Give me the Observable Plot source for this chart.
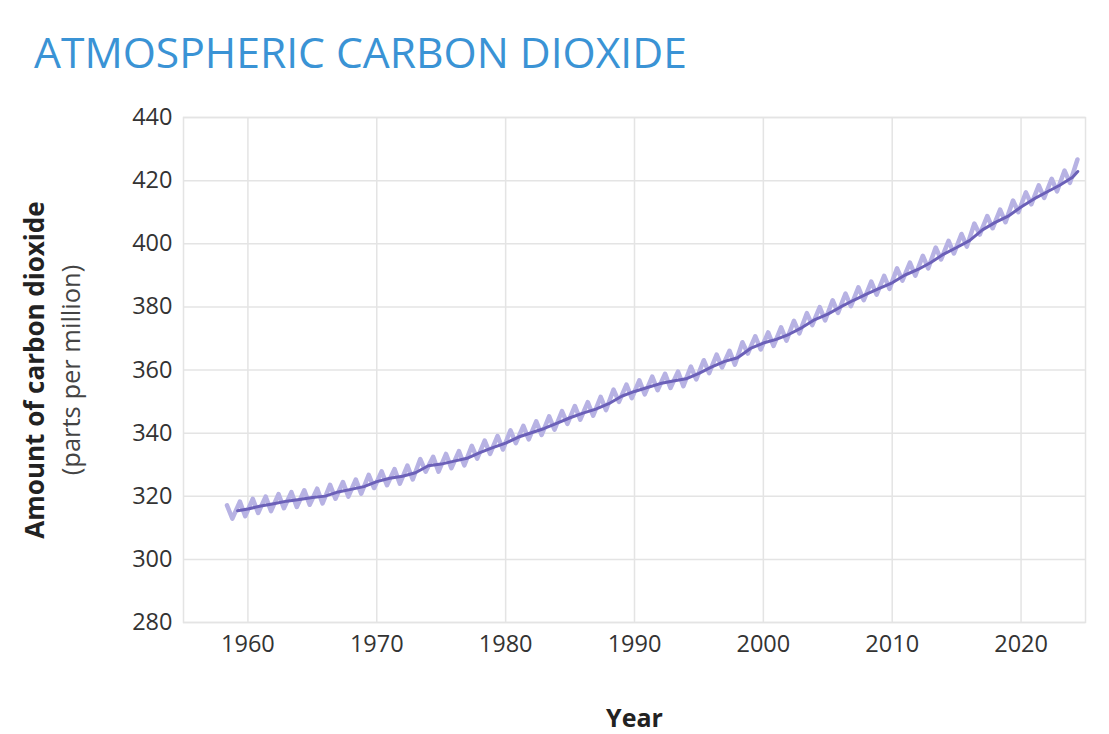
<!DOCTYPE html>
<html>
<head>
<meta charset="utf-8">
<script src="https://cdn.jsdelivr.net/npm/d3@7"></script>
<script src="https://cdn.jsdelivr.net/npm/@observablehq/plot@0.6"></script>
<style>
  html, body { margin: 0; padding: 0; background: #fff; }
  body { width: 1109px; height: 734px; position: relative; overflow: hidden; font-family: "Open Sans", sans-serif; }
  #title { position: absolute; left: 34px; top: 22px; font-size: 42.6px; color: #3a93d5; font-family: "Open Sans", sans-serif; white-space: nowrap; }
  #chart { position: absolute; left: 0; top: 100px; }
</style>
</head>
<body>
<div id="title">ATMOSPHERIC CARBON DIOXIDE</div>
<div id="chart"></div>
<script>
// Seasonal cycle: May peak and October trough (ppm) for each year
const cycleYears = [1958,1959,1960,1961,1962,1963,1964,1965,1966,1967,1968,1969,1970,1971,1972,1973,1974,1975,1976,1977,1978,1979,1980,1981,1982,1983,1984,1985,1986,1987,1988,1989,1990,1991,1992,1993,1994,1995,1996,1997,1998,1999,2000,2001,2002,2003,2004,2005,2006,2007,2008,2009,2010,2011,2012,2013,2014,2015,2016,2017,2018,2019,2020,2021,2022,2023,2024];
const mayPeak = [317.1,318.3,319.2,319.9,320.7,321.3,321.9,322.4,323.6,324.5,325.3,326.8,327.9,328.6,329.7,331.8,332.5,333.4,334.3,336.0,337.6,339.1,340.9,342.3,343.7,345.3,347.0,348.6,349.8,351.5,353.8,355.4,356.7,357.9,358.8,359.5,361.1,363.1,364.9,366.1,368.8,370.7,371.9,373.5,375.6,378.0,379.9,382.1,384.2,386.2,388.0,389.8,392.2,394.0,396.2,398.8,400.9,403.1,406.4,408.8,410.8,413.7,416.3,418.5,420.6,423.2,426.7];
const octTrough = [312.9,313.7,314.7,315.3,316.2,316.6,317.3,317.7,319.2,319.9,320.8,322.6,323.5,324.0,325.3,327.8,327.8,328.9,329.8,331.9,333.4,334.8,336.8,338.0,339.4,341.1,342.9,344.3,345.5,347.3,349.9,351.1,352.3,353.6,354.3,354.9,357.0,359.0,360.8,361.7,365.2,366.5,367.6,369.3,371.6,374.2,375.7,378.1,380.2,382.1,383.9,385.7,388.3,389.9,392.2,395.0,396.9,399.1,402.9,404.9,406.8,410.0,412.5,414.5,416.6,419.3,null];
const peakMonth = 5, troughMonth = 10;

// Trailing 12-month average (ppm)
const trendTime = [1959.2,1960,1961,1962,1963,1964,1965,1966,1967,1968,1969,1970,1971,1972,1973,1974,1975,1976,1977,1978,1979,1980,1981,1982,1983,1984,1985,1986,1987,1988,1989,1990,1991,1992,1993,1994,1995,1996,1997,1998,1999,2000,2001,2002,2003,2004,2005,2006,2007,2008,2009,2010,2011,2012,2013,2014,2015,2016,2017,2018,2019,2020,2021,2022,2023,2024,2024.4];
const trendPpm = [315.4,315.98,316.91,317.64,318.45,318.99,319.62,320.04,321.37,322.18,323.05,324.62,325.68,326.32,327.46,329.68,330.19,331.13,332.03,333.84,335.41,336.84,338.76,340.12,341.48,343.15,344.87,346.35,347.61,349.31,351.69,353.20,354.45,355.70,356.54,357.21,358.96,360.97,362.74,363.88,366.84,368.54,369.71,371.32,373.45,375.98,377.70,379.98,382.09,384.02,385.83,387.64,390.10,391.85,394.06,396.74,398.81,401.01,404.41,406.76,408.72,411.65,414.21,416.41,418.53,421.08,422.9];

const xTicks = [1960,1970,1980,1990,2000,2010,2020];
const yTicks = [280,300,320,340,360,380,400,420,440];
const yLabel = "Amount of carbon dioxide";
const yUnit = "(parts per million)";
const xLabel = "Year";

const seasonal = [];
cycleYears.forEach((yr, i) => {
  if (mayPeak[i] != null) seasonal.push({t: yr + (peakMonth - 0.5) / 12, v: mayPeak[i]});
  if (octTrough[i] != null) seasonal.push({t: yr + (troughMonth - 0.5) / 12, v: octTrough[i]});
});
const trend = trendTime.map((t, i) => ({t, v: trendPpm[i]}));

const chart = Plot.plot({
  width: 1109,
  height: 634,
  marginLeft: 183,
  marginRight: 24,
  marginTop: 17,
  marginBottom: 112,
  style: {fontFamily: "Open Sans, sans-serif", fontSize: "23px", color: "#333", background: "#fff"},
  x: {domain: [1955, 2025]},
  y: {domain: [280, 440]},
  marks: [
    Plot.gridX(xTicks, {stroke: "#e4e4e4", strokeOpacity: 1, strokeWidth: 1.5}),
    Plot.gridY(yTicks, {stroke: "#e4e4e4", strokeOpacity: 1, strokeWidth: 1.5}),
    Plot.frame({stroke: "#e4e4e4", strokeWidth: 1.5}),
    Plot.axisX(xTicks, {tickSize: 0, tickPadding: 13, label: null, tickFormat: d => String(d), fontSize: 23.5}),
    Plot.axisY(yTicks, {tickSize: 0, tickPadding: 11, label: null, fontSize: 23.5}),
    Plot.line(seasonal, {x: "t", y: "v", stroke: "#b7b2e3", strokeWidth: 4.5, strokeLinejoin: "round", strokeLinecap: "round"}),
    Plot.line(trend, {x: "t", y: "v", stroke: "#6b60b8", strokeWidth: 3, strokeLinejoin: "round", strokeLinecap: "round"}),
    Plot.text([yLabel], {frameAnchor: "left", dx: -148, rotate: -90, textAnchor: "middle", fontWeight: "bold", fontSize: 26, fill: "#222"}),
    Plot.text([yUnit], {frameAnchor: "left", dx: -112, rotate: -90, textAnchor: "middle", fontSize: 25.5, fill: "#444"}),
    Plot.text([xLabel], {frameAnchor: "bottom", dy: 104, fontWeight: "bold", fontSize: 25, fill: "#222"})
  ]
});
document.getElementById("chart").appendChild(chart);
</script>
</body>
</html>
